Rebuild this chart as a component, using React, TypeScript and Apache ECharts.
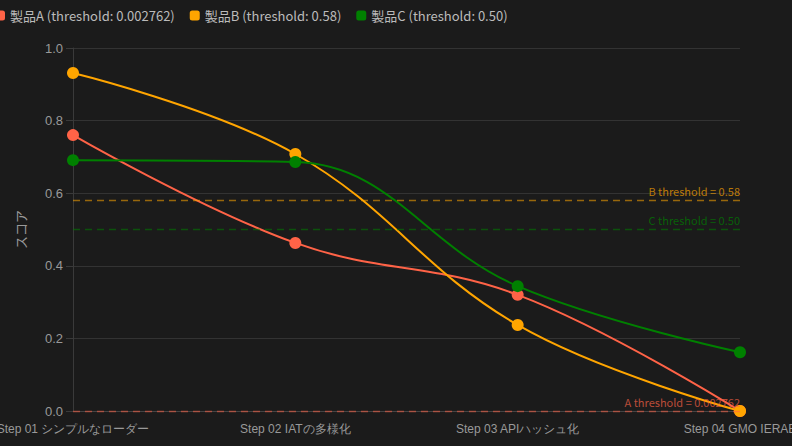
import React, { useEffect, useRef } from "react";
import * as echarts from "echarts";

const categories = [
  "Step 01 シンプルなローダー",
  "Step 02 IATの多様化",
  "Step 03 APIハッシュ化",
  "Step 04 GMO IERAE",
];
const seriesNames = [
  "製品A (threshold: 0.002762)",
  "製品B (threshold: 0.58)",
  "製品C (threshold: 0.50)",
];
const valuesA = [0.76, 0.463, 0.32, 0.0];
const valuesB = [0.931, 0.708, 0.237, 0.0];
const valuesC = [0.691, 0.686, 0.344, 0.162];
const thresholds = [0.002762, 0.58, 0.5];
const thresholdLabels = ["A threshold = 0.002762", "B threshold = 0.58", "C threshold = 0.50"];
const colors = ["#ff6347", "#ffa500", "#008000"];
const yTicks = { min: 0, max: 1, interval: 0.2 };

export default function App() {
  const ref = useRef<HTMLDivElement>(null);
  useEffect(() => {
    document.body.style.margin = "0";
    const chart = echarts.init(ref.current!, null, { renderer: "svg" });
    const data = [valuesA, valuesB, valuesC];
    chart.setOption({
      animation: false,
      backgroundColor: "#1b1b1b",
      legend: {
        top: 4,
        left: -10,
        itemWidth: 10,
        itemHeight: 10,
        itemGap: 15,
        icon: "roundRect",
        textStyle: { color: "#bbbbbb", fontSize: 13, fontFamily: "Noto Sans CJK JP" },
        data: seriesNames,
      },
      grid: { left: 73, right: 52, top: 48, bottom: 35, containLabel: false, outerBoundsMode: "none" },
      xAxis: {
        type: "category",
        boundaryGap: false,
        data: categories,
        axisLine: { lineStyle: { color: "#444" } },
        axisTick: { show: false },
        axisLabel: { color: "#999", fontSize: 12, fontFamily: "sans-serif", margin: 12 },
        splitLine: { show: false },
      },
      yAxis: {
        type: "value",
        min: yTicks.min,
        max: yTicks.max,
        interval: yTicks.interval,
        name: "スコア",
        nameLocation: "middle",
        nameGap: 46,
        nameTextStyle: { color: "#999", fontSize: 13, fontFamily: "Noto Sans CJK JP" },
        axisLine: { show: true, lineStyle: { color: "#3a3a3a" } },
        axisTick: { show: true, length: 7, lineStyle: { color: "#3a3a3a" } },
        axisLabel: {
          color: "#999",
          fontSize: 13,
          fontFamily: "sans-serif",
          margin: 10,
          formatter: (v: number) => v.toFixed(1),
        },
        splitLine: { lineStyle: { color: "#333" } },
      },
      series: seriesNames.map((name, i) => ({
        name,
        type: "line",
        smooth: 0.4,
        data: data[i],
        symbol: "circle",
        symbolSize: 12,
        itemStyle: { color: colors[i] },
        lineStyle: { color: colors[i], width: 2 },
        markLine: {
          silent: true,
          symbol: "none",
          lineStyle: { color: colors[i], type: [7, 5], width: 1.3, opacity: 0.55 },
          label: {
            position: "insideEndTop",
            formatter: thresholdLabels[i],
            color: colors[i],
            opacity: 0.7,
            fontSize: 11,
            distance: [0, 4],
            fontFamily: "Noto Sans CJK JP",
          },
          data: [{ yAxis: thresholds[i] }],
        },
      })),
    });
    return () => chart.dispose();
  }, []);
  return <div ref={ref} style={{ width: 792, height: 446 }} />;
}
